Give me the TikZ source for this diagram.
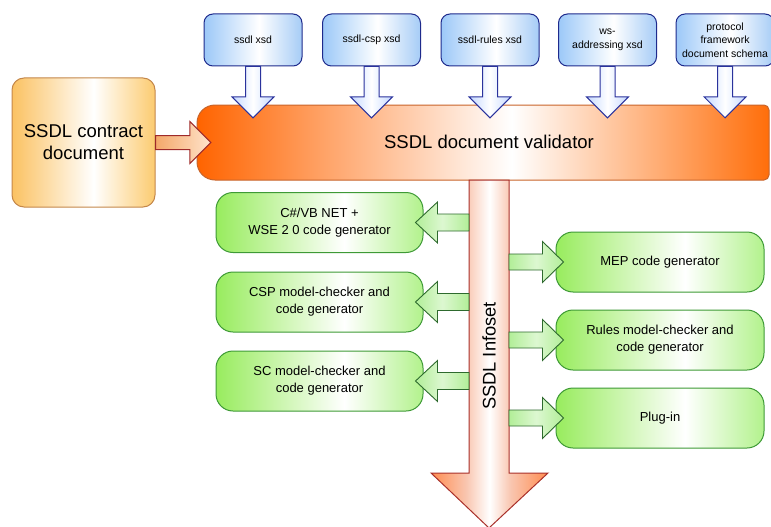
\documentclass[tikz,border=0pt]{standalone}
\usepackage{fontspec}
\setmainfont{Liberation Sans}
\usetikzlibrary{calc}
\definecolor{valL}{HTML}{FF6400}
\definecolor{valR}{HTML}{FF6E0A}
\definecolor{valB}{HTML}{C8642A}
\definecolor{blueL}{HTML}{9CC8F8}
\definecolor{blueR}{HTML}{A6CCF6}
\definecolor{blueB}{HTML}{1E2A8C}
\definecolor{blueA}{HTML}{C4D8FF}
\definecolor{blueAB}{HTML}{2A329C}
\definecolor{greenL}{HTML}{98EC5E}
\definecolor{greenR}{HTML}{B2F28C}
\definecolor{greenB}{HTML}{3E9A36}
\definecolor{greenA}{HTML}{B2EE98}
\definecolor{greenAB}{HTML}{2E6A2E}
\definecolor{conL}{HTML}{FBC262}
\definecolor{conR}{HTML}{FCCB70}
\definecolor{conB}{HTML}{C4874A}
\definecolor{conAL}{HTML}{F4A86A}
\definecolor{conAR}{HTML}{FFE4CC}
\definecolor{conAB}{HTML}{9E2A2A}
\definecolor{infHead}{HTML}{FF8C50}
\definecolor{infPink}{HTML}{F9C6B0}
\definecolor{infB}{HTML}{A8302A}
\pgfdeclarehorizontalshading{valSh}{100bp}{color(0bp)=(valL); color(25bp)=(valL); color(52.5bp)=(white); color(75bp)=(valR); color(100bp)=(valR)}
\pgfdeclarehorizontalshading{blueSh}{100bp}{color(0bp)=(blueL); color(25bp)=(blueL); color(53bp)=(white); color(75bp)=(blueR); color(100bp)=(blueR)}
\pgfdeclarehorizontalshading{greenSh}{100bp}{color(0bp)=(greenL); color(25bp)=(greenL); color(56bp)=(white); color(75bp)=(greenR); color(100bp)=(greenR)}
\pgfdeclarehorizontalshading{conSh}{100bp}{color(0bp)=(conL); color(25bp)=(conL); color(53.5bp)=(white); color(75bp)=(conR); color(100bp)=(conR)}
\pgfdeclarehorizontalshading{infSh}{100bp}{color(0bp)=(infHead); color(25bp)=(infHead); color(40bp)=(infPink); color(50bp)=(white); color(59bp)=(infPink); color(75bp)=(infHead); color(100bp)=(infHead)}
\tikzset{
  bluebox/.style={draw=blueB, line width=1pt, rounded corners=9pt, shade, shading=blueSh,
    minimum width=98pt, minimum height=52pt, align=center, inner sep=0pt,
    font=\fontsize{10.5}{13.5}\selectfont},
  greenbox/.style={draw=greenB, line width=1pt, rounded corners=17pt, shade, shading=greenSh,
    minimum width=207pt, minimum height=60pt, align=center, inner sep=0pt,
    font=\fontsize{13}{17}\selectfont},
  conbox/.style={draw=conB, line width=1pt, rounded corners=12pt, shade, shading=conSh,
    minimum width=143pt, minimum height=129pt, align=center, inner sep=0pt,
    font=\fontsize{18.5}{22}\selectfont},
  bluearrow/.style={draw=blueAB, line width=1pt, line join=miter, left color=blueA, right color=blueA, middle color=white},
  greenarrow/.style={draw=greenAB, line width=0.9pt, line join=miter, left color=greenA, right color=greenA, middle color=white!55!greenA},
  conarrow/.style={draw=conAB, line width=1pt, line join=miter, left color=conAL, right color=conAR},
  infarrow/.style={draw=infB, line width=1pt, line join=miter, shade, shading=infSh},
  bigtext/.style={font=\fontsize{18.5}{22}\selectfont, inner sep=0pt}
}
\begin{document}
\begin{tikzpicture}[x=1pt,y=-1pt]
\useasboundingbox (0,0) rectangle (771,527);
\clip (0,0) rectangle (771,527);

% validator bar
\path[draw=valB, line width=1pt, shade, shading=valSh]
  (197,123) arc[start angle=180, end angle=270, radius=18] -- (764,105)
  arc[start angle=270, end angle=360, radius=5] -- (769,175)
  arc[start angle=0, end angle=90, radius=5] -- (215,180)
  arc[start angle=90, end angle=180, radius=18] -- cycle;
\node[minimum width=572pt, minimum height=75pt, inner sep=0pt] (val) at (483,142.5) {};
\node[bigtext] (valtxt) at (489,142) {SSDL document validator};

% top schema boxes
\node[bluebox] (b1) at (253,40) {ssdl xsd};
\node[bluebox] (b2) at (371.5,40) {ssdl-csp xsd};
\node[bluebox] (b3) at (490,40) {ssdl-rules xsd};
\node[bluebox] (b4) at (607.5,40) {ws-\\addressing xsd};
\node[bluebox] (b5) at (725,40) {protocol\\framework\\document schema};

\foreach \b in {b1,b2,b3,b4,b5}{
  \coordinate (t) at ($(\b.south |- val.north)+(0,13)$);
  \draw[bluearrow] ($(\b.south)+(-7.5,0)$) -- ($(\b.south)+(7.5,0)$) -- ($(t)+(7.5,-21)$)
    -- ($(t)+(21,-21)$) -- (t) -- ($(t)+(-21,-21)$) -- ($(t)+(-7.5,-21)$) -- cycle;
}

% contract document
\node[conbox] (cd) at (83.5,142.5) {SSDL contract\\document};
\coordinate (ctip) at ($(val.west)+(14,0)$);
\draw[conarrow] ($(cd.east)+(0,-7)$) -- ($(ctip)+(-21,-7)$) -- ($(ctip)+(-21,-21)$) -- (ctip)
  -- ($(ctip)+(-21,21)$) -- ($(ctip)+(-21,7)$) -- ($(cd.east)+(0,7)$) -- cycle;

% infoset arrow
\coordinate (ist) at ($(val.south)+(6,0)$);
\coordinate (isl) at ($(ist)+(-20,0)$);
\coordinate (isr) at ($(ist)+(20,0)$);
\coordinate (isb) at (489,528);
\draw[infarrow] (isl) -- (isr) -- ($(isb)+(20,-55)$) -- ($(isb)+(59,-55)$) -- (isb)
  -- ($(isb)+(-58,-55)$) -- ($(isb)+(-20,-55)$) -- cycle;
\node[bigtext, rotate=90, font=\fontsize{18.3}{22}\selectfont] (inf) at (489,356) {SSDL Infoset};

% generator boxes
\node[greenbox] (l1) at (319.5,222.5) {C\#/VB NET +\\WSE 2 0 code generator};
\node[greenbox] (l2) at (319.5,302) {CSP model-checker and\\code generator};
\node[greenbox] (l3) at (319.5,381) {SC model-checker and\\code generator};
\node[greenbox, minimum width=208pt] (r1) at (660,262) {MEP code generator};
\node[greenbox, minimum width=208pt] (r2) at (660,340) {Rules model-checker and\\code generator};
\node[greenbox, minimum width=208pt] (r3) at (660,418) {Plug-in};

\foreach \l in {l1,l2,l3}{
  \coordinate (t) at ($(\l.east)+(-8,0)$);
  \draw[greenarrow] ($(\l.east -| isl)+(0,-8.5)$) -- ($(t)+(22,-8.5)$) -- ($(t)+(22,-20.5)$)
    -- (t) -- ($(t)+(22,20.5)$) -- ($(t)+(22,8.5)$) -- ($(\l.east -| isl)+(0,8.5)$) -- cycle;
}
\foreach \r in {r1,r2,r3}{
  \coordinate (t) at ($(\r.west)+(8,0)$);
  \draw[greenarrow] ($(\r.west -| isr)+(0,-8)$) -- ($(t)+(-21,-8)$) -- ($(t)+(-21,-20.5)$)
    -- (t) -- ($(t)+(-21,20.5)$) -- ($(t)+(-21,8)$) -- ($(\r.west -| isr)+(0,8)$) -- cycle;
}
\end{tikzpicture}
\end{document}
